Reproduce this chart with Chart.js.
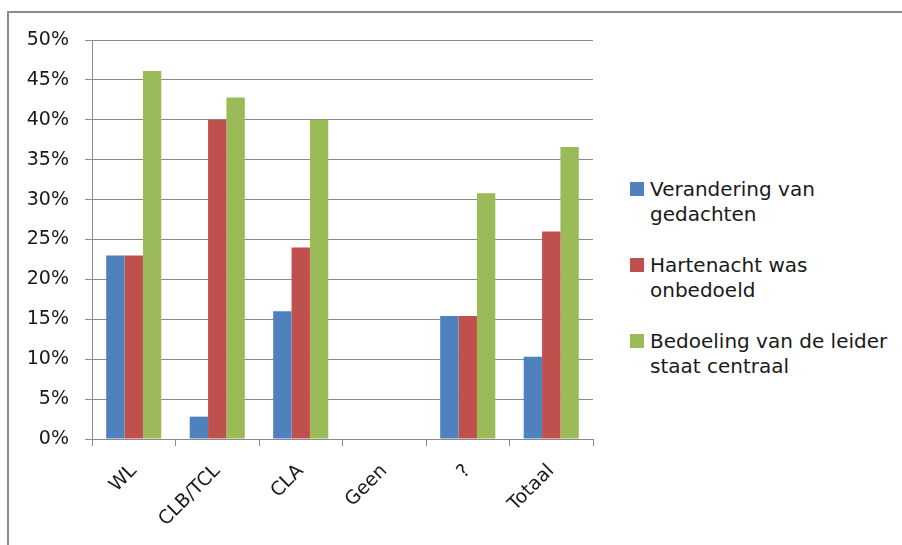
<!DOCTYPE html>
<html>
<head>
<meta charset="utf-8">
<script src="https://cdn.jsdelivr.net/npm/chart.js@4.4.0/dist/chart.umd.min.js"></script>
<style>
  body { margin: 0; background: #fff; width: 902px; height: 545px; overflow: hidden; position: relative; font-family: "DejaVu Sans", sans-serif; }
  #frame { position: absolute; left: 7px; top: 11px; width: 1000px; height: 600px; border: 2px solid #8a8a8a; box-sizing: border-box; }
  #wrap { position: absolute; left: 0; top: 0; width: 600px; height: 545px; }
  #legend { position: absolute; left: 630px; top: 177px; font-size: 20px; color: #1a1a1a; line-height: 25px; }
  .item { position: relative; padding-left: 20px; margin-bottom: 26px; }
  .box { position: absolute; left: 0; top: 5px; width: 14px; height: 14px; }
</style>
</head>
<body>
<div id="frame"></div>
<div id="wrap"><canvas id="chart"></canvas></div>
<div id="legend"></div>
<script>
// categorieën en reeksen (in %)
const categorieen = ['WL', 'CLB/TCL', 'CLA', 'Geen', '?', 'Totaal'];
const verandering = [23.0, 2.8, 16.0, 0, 15.4, 10.3];
const hartenacht = [23.0, 40.0, 24.0, 0, 15.4, 26.0];
const bedoeling = [46.1, 42.8, 40.0, 0, 30.8, 36.6];
const reeksNamen = [['Verandering van', 'gedachten'], ['Hartenacht was', 'onbedoeld'], ['Bedoeling van de leider', 'staat centraal']];
const kleuren = ['#4F81BD', '#C0504D', '#9BBB59'];
const yTicks = [0, 5, 10, 15, 20, 25, 30, 35, 40, 45, 50];

const reeksen = [verandering, hartenacht, bedoeling];
const fam = '"DejaVu Sans", sans-serif';

const chart = new Chart(document.getElementById('chart'), {
    type: 'bar',
    data: {
        labels: categorieen,
        datasets: reeksen.map((d, i) => ({
            label: reeksNamen[i].join(' '),
            data: d,
            backgroundColor: kleuren[i],
            borderWidth: 0,
            categoryPercentage: 0.66,
            barPercentage: 1
        }))
    },
    options: {
        responsive: true,
        maintainAspectRatio: false,
        animation: false,
        layout: { padding: { left: 10, right: 7, top: 40, bottom: 0 } },
        plugins: { legend: { display: false }, tooltip: { enabled: false } },
        scales: {
            x: {
                offset: true,
                grid: { offset: true, drawOnChartArea: false, color: '#8a8a8a', tickLength: 7, tickWidth: 1 },
                border: { color: '#8a8a8a', width: 1 },
                ticks: { color: '#1a1a1a', font: { family: fam, size: 19 }, minRotation: 45, maxRotation: 45, padding: 14, autoSkip: false },
                afterFit: s => { s.height = 106; }
            },
            y: {
                min: 0, max: 50,
                afterBuildTicks: s => { s.ticks = yTicks.map(v => ({ value: v })); },
                grid: { color: '#8a8a8a', tickLength: 7, lineWidth: 1 },
                border: { color: '#8a8a8a', width: 1 },
                ticks: { color: '#1a1a1a', font: { family: fam, size: 19 }, padding: 16, callback: v => v + '%' },
                afterFit: s => { s.width = 82; }
            }
        }
    }
});

// legenda met afgebroken tekst
const leg = document.getElementById('legend');
reeksNamen.forEach((n, i) => {
    const it = document.createElement('div');
    it.className = 'item';
    it.innerHTML = `<span class="box" style="background:${kleuren[i]}"></span>${n.join('<br>')}`;
    leg.appendChild(it);
});
</script>
</body>
</html>
